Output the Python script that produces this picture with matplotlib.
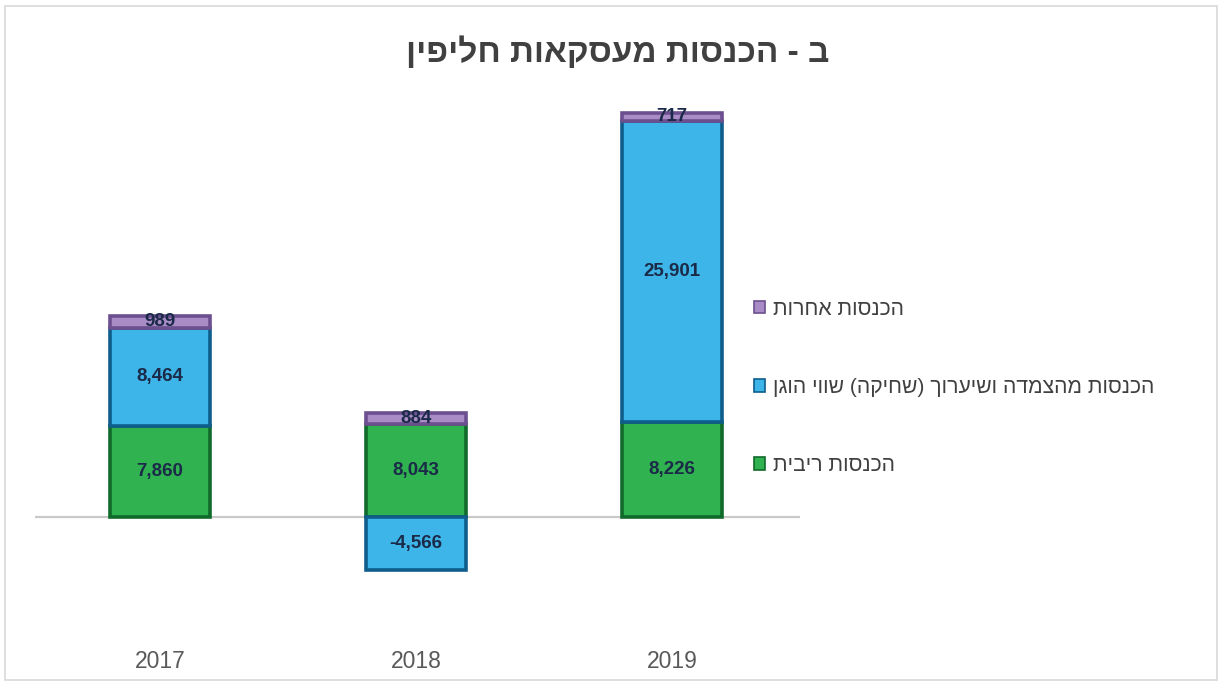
import matplotlib
matplotlib.use("Agg")
import matplotlib.pyplot as plt
from matplotlib.patches import Rectangle, Patch
import numpy as np

plt.rcParams['font.family'] = ['Liberation Sans', 'DejaVu Sans']

years = ["2017", "2018", "2019"]
interest = [7860, 8043, 8226]
indexation = [8464, -4566, 25901]
other = [989, 884, 717]

title = "ב - הכנסות מעסקאות חליפין"
series_names = ["הכנסות ריבית", "הכנסות מהצמדה ושיערוך (שחיקה) שווי הוגן", "הכנסות אחרות"]

def rtl(s):
    return s[::-1].translate(str.maketrans("()", ")("))

face = ["#2fb24f", "#3db5e8", "#a98cc6"]
edge = ["#0f6a2b", "#0e5d8a", "#6b4f8f"]

fig = plt.figure(figsize=(12.19, 6.85), dpi=100)
fig.patches.append(Rectangle((5/1219, 5/685), 1212/1219, 674/685, transform=fig.transFigure,
                             fill=False, edgecolor="#d9d9d9", linewidth=1.2))

ax_left, ax_right = 35/1219, 800/1219
ax_top, ax_bot = 1 - 100/685, 1 - 640/685
ax = fig.add_axes([ax_left, ax_bot, ax_right - ax_left, ax_top - ax_bot])

x = np.arange(len(years))
w = 0.39

interest = np.array(interest)
indexation = np.array(indexation)
other = np.array(other)

pos_base = np.zeros(len(years))
neg_base = np.zeros(len(years))
segments = []
for i, vals in enumerate([interest, indexation, other]):
    bottoms = np.where(vals >= 0, pos_base, neg_base)
    bars = ax.bar(x, vals, w, bottom=bottoms, color=face[i], edgecolor=edge[i],
                  linewidth=2.6, zorder=3)
    segments.append((bars, vals, bottoms))
    pos_base = pos_base + np.where(vals >= 0, vals, 0)
    neg_base = neg_base + np.where(vals < 0, vals, 0)

for bars, vals, bottoms in segments:
    for xi, v, b in zip(x, vals, bottoms):
        ax.text(xi, b + v / 2, f"{v:,}", ha="center", va="center", fontsize=13.5,
                fontweight="bold", color="#1b2a48", zorder=5)

ax.axhline(0, color="#c9c9c9", linewidth=1.6, zorder=2)
ax.set_xlim(-0.488, 2.5)
ax.set_ylim(-10600, 35950)
ax.axis("off")

for xi, yr in zip(x, years):
    ax.text(xi, -22/540, yr, transform=ax.get_xaxis_transform(), ha="center", va="center",
            fontsize=16.5, color="#595959")

fig.text(0.5 + 8/1219, 1 - 53/685, rtl(title), ha="center", va="center", fontsize=24,
         fontweight="bold", color="#404040")

handles = [Patch(facecolor=face[i], edgecolor=edge[i], linewidth=1.2) for i in range(3)][::-1]
labels = [rtl(s) for s in series_names][::-1]
leg = fig.legend(handles, labels, loc="upper left", bbox_to_anchor=(743/1219, 1 - 289/685),
                 frameon=False, fontsize=15.2, labelspacing=2.8, handlelength=0.55,
                 handleheight=0.55, handletextpad=0.35, borderpad=0)
for t in leg.get_texts():
    t.set_color("#404040")

fig.savefig("out.png", dpi=100)
